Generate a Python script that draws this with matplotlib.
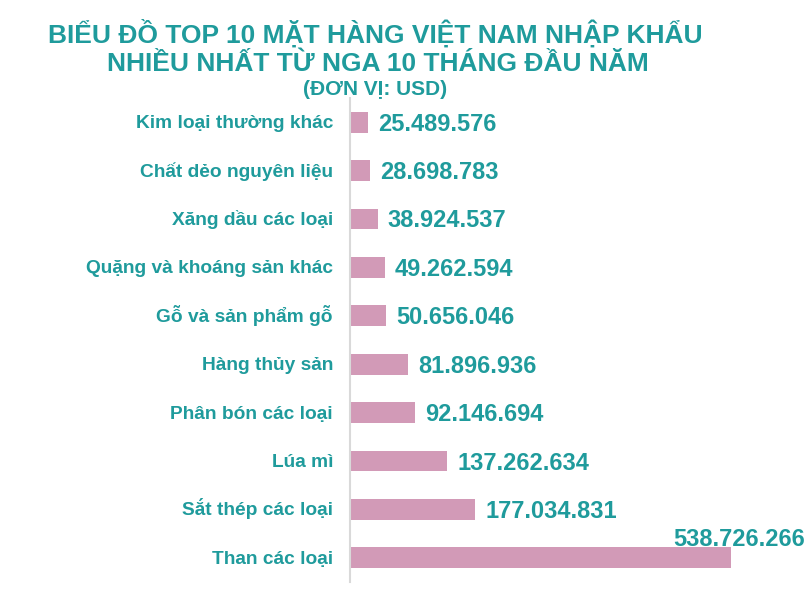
import matplotlib
matplotlib.use("Agg")
import matplotlib.pyplot as plt

categories = ["Than các loại", "Sắt thép các loại", "Lúa mì", "Phân bón các loại",
              "Hàng thủy sản", "Gỗ và sản phẩm gỗ", "Quặng và khoáng sản khác",
              "Xăng dầu các loại", "Chất dẻo nguyên liệu", "Kim loại thường khác"]
values = [538726266, 177034831, 137262634, 92146694, 81896936,
          50656046, 49262594, 38924537, 28698783, 25489576]
labels = ["538.726.266", "177.034.831", "137.262.634", "92.146.694", "81.896.936",
          "50.656.046", "49.262.594", "38.924.537", "28.698.783", "25.489.576"]

TEAL = "#1F9B9C"
PINK = "#D29AB7"
plt.rcParams['font.family'] = ['Liberation Sans', 'DejaVu Sans']

W, H = 810, 592
PX = 72 / 100  # points per pixel
fig = plt.figure(figsize=(W / 100, H / 100), dpi=100)
ax = fig.add_axes([350 / W, 10 / H, 460 / W, 484 / H])

y = list(range(len(categories)))
ax.barh(y, values, height=0.43, color=PINK, zorder=2)
ax.set_ylim(-0.5, len(categories) - 0.5)
ax.set_xlim(0, 460 / 381 * values[0])

ax.set_yticks([])
ax.set_xticks([])
for s in ['top', 'right', 'bottom']:
    ax.spines[s].set_visible(False)
ax.spines['left'].set_color('#D9D9D9')
ax.spines['left'].set_linewidth(1.5)

for i, cat in enumerate(categories):
    ax.annotate(cat, xy=(0, i), xycoords=('axes fraction', 'data'),
                xytext=(-17 * PX, -6 * PX), textcoords='offset points',
                ha='right', va='baseline', fontsize=13.8, fontweight='bold', color=TEAL,
                annotation_clip=False)

for i, (v, lab) in enumerate(zip(values, labels)):
    if i == 0:
        ax.annotate(lab, xy=(1.0, i), xycoords=('axes fraction', 'data'),
                    xytext=(-5 * PX, 11.5 * PX), textcoords='offset points',
                    ha='right', va='baseline', fontsize=17, fontweight='bold', color=TEAL)
    else:
        ax.annotate(lab, xy=(v, i), xytext=(10 * PX, -8.5 * PX), textcoords='offset points',
                    ha='left', va='baseline', fontsize=17, fontweight='bold', color=TEAL)

fig.text(375 / W, 1 - 42.3 / H, "BIỂU ĐỒ TOP 10 MẶT HÀNG VIỆT NAM NHẬP KHẨU",
         ha='center', va='baseline', fontsize=19, fontweight='bold', color=TEAL)
fig.text(377.5 / W, 1 - 71 / H, "NHIỀU NHẤT TỪ NGA 10 THÁNG ĐẦU NĂM",
         ha='center', va='baseline', fontsize=19, fontweight='bold', color=TEAL)
fig.text(375.5 / W, 1 - 95 / H, "(ĐƠN VỊ: USD)",
         ha='center', va='baseline', fontsize=15, fontweight='bold', color=TEAL)

fig.savefig("out.png", dpi=100)
